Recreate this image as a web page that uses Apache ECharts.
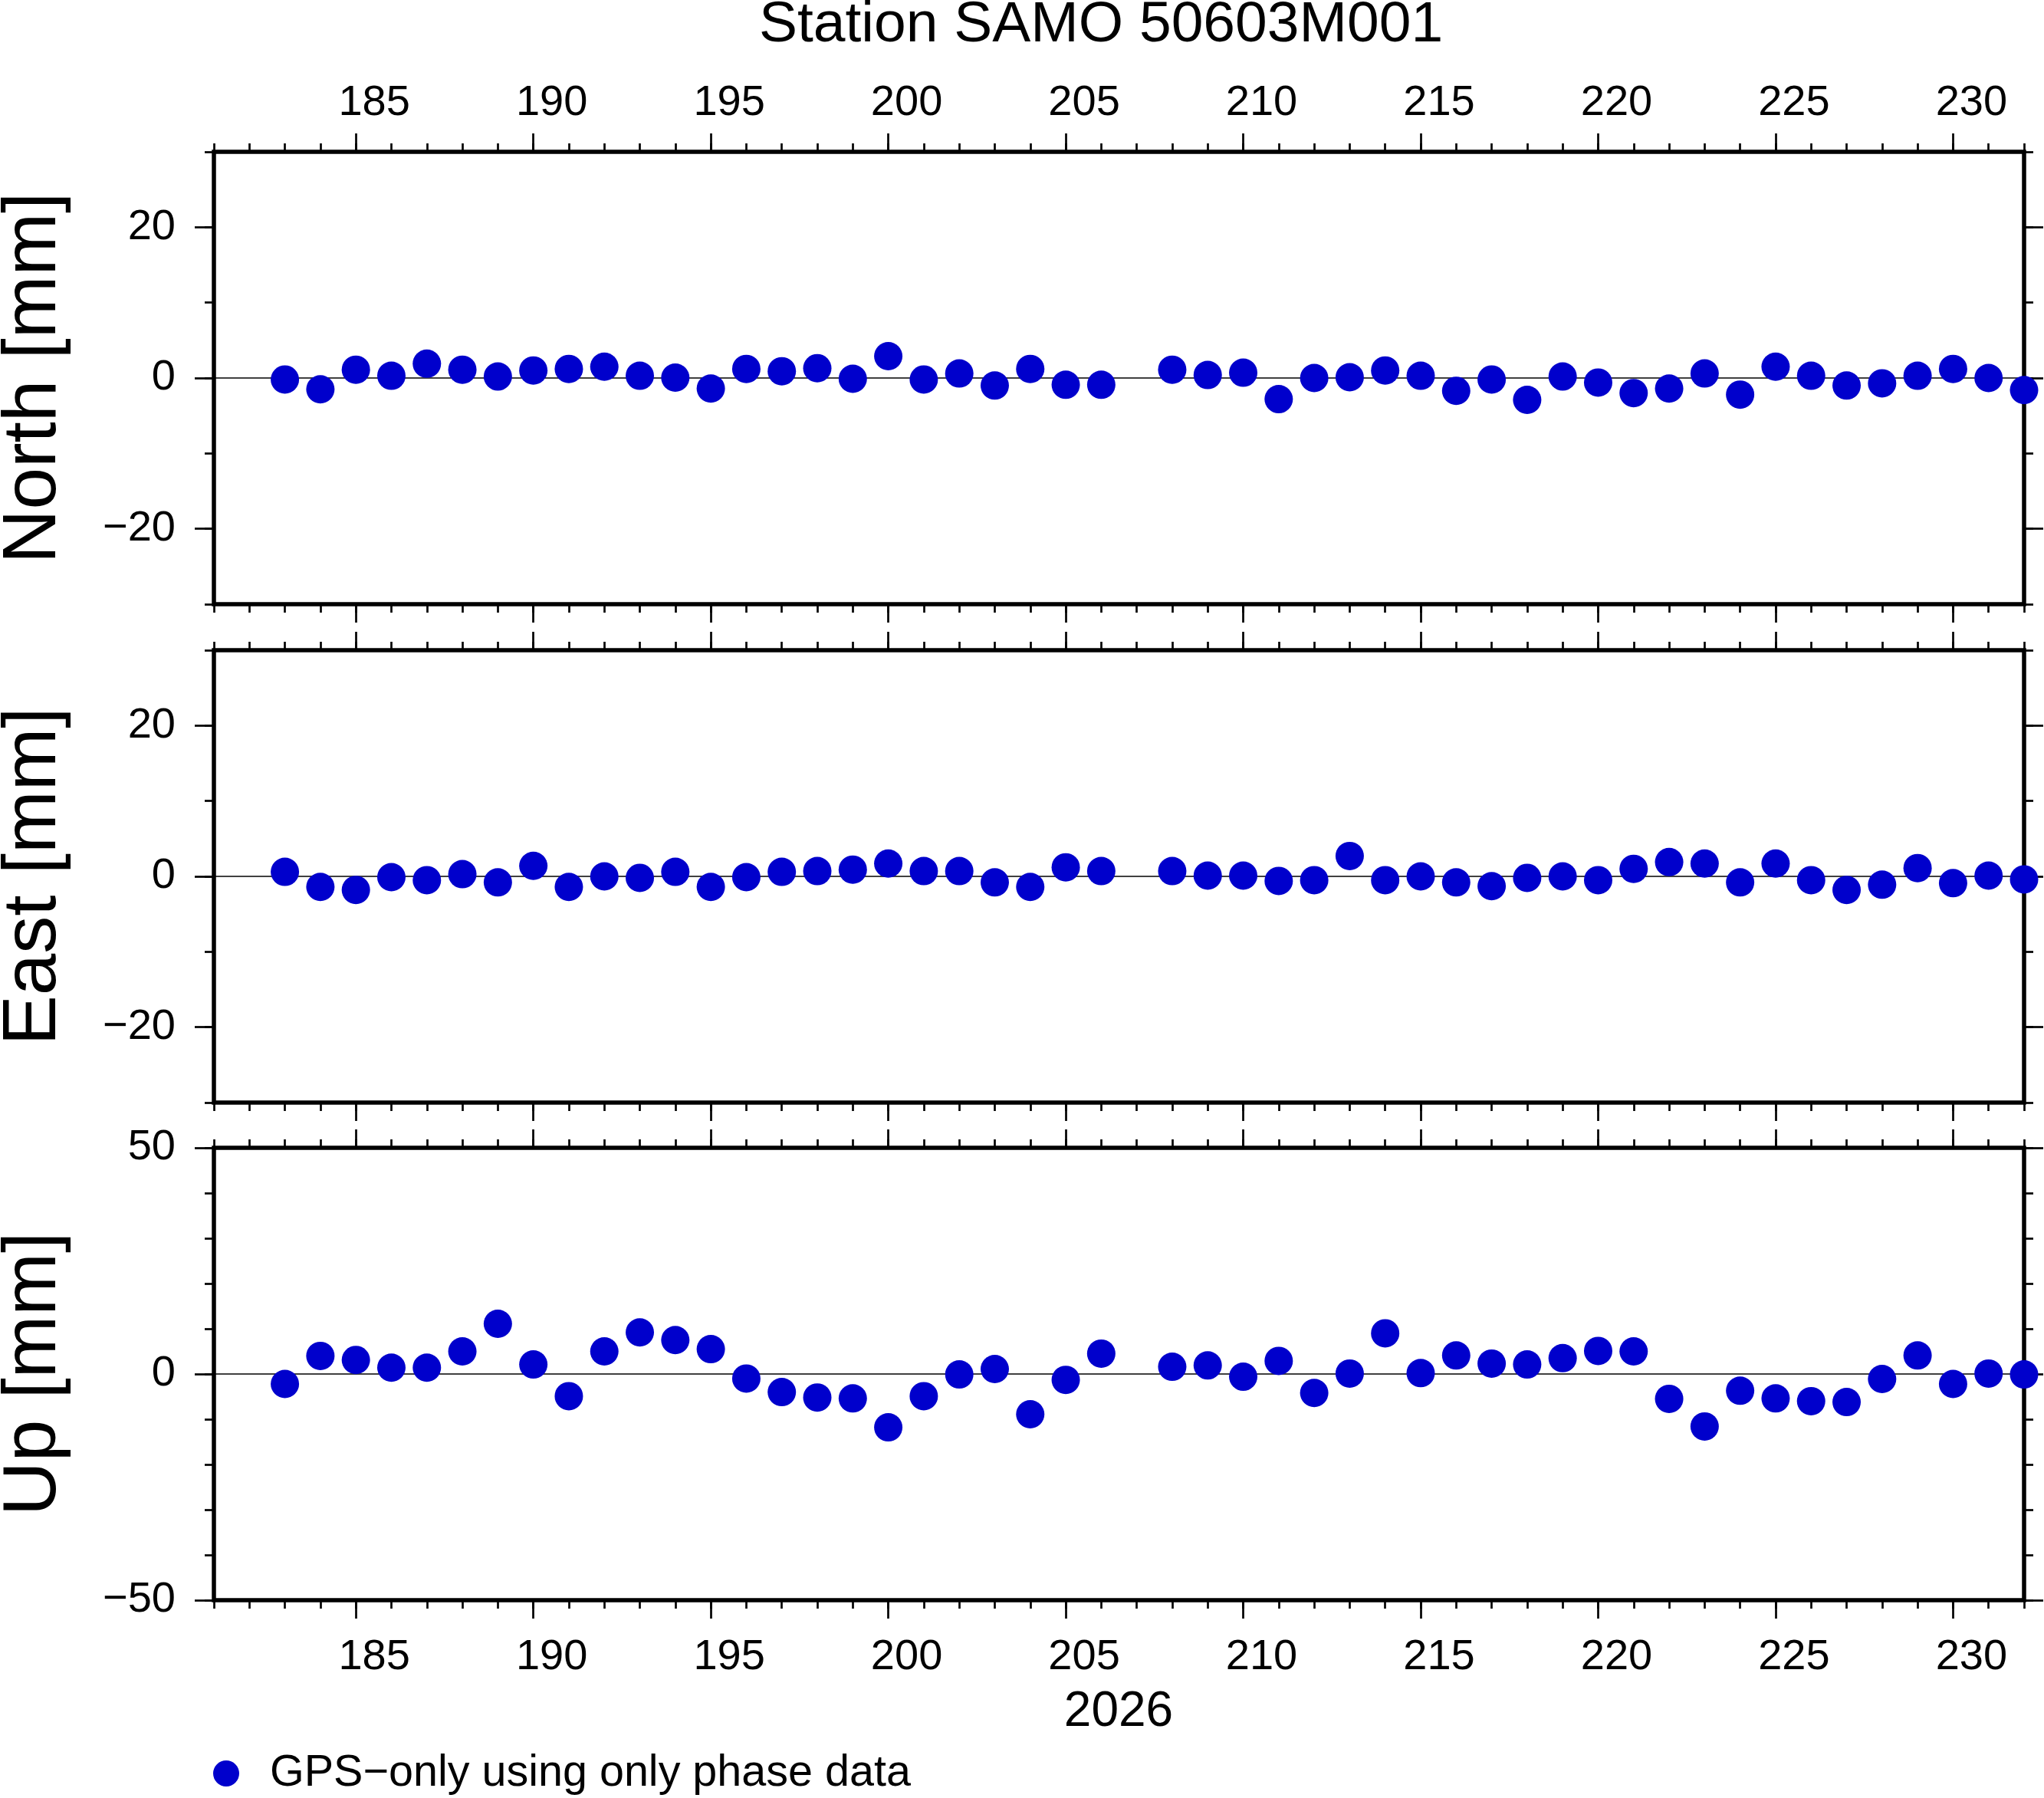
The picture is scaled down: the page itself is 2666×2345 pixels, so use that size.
<!DOCTYPE html>
<html>
<head>
<meta charset="utf-8">
<script src="https://cdn.jsdelivr.net/npm/echarts@6/dist/echarts.min.js"></script>
<style>
html,body{margin:0;padding:0;background:#fff;}
#chart{width:2666px;height:2345px;}
</style>
</head>
<body>
<div id="chart"></div>
<script>
// ---- data ----
const days = [183,184,185,186,187,188,189,190,191,192,193,194,195,196,197,198,199,200,201,202,203,204,205,206,
              208,209,210,211,212,213,214,215,216,217,218,219,220,221,222,223,224,225,226,227,228,229,230,231,232];
const north = [-0.2,-1.5,1.1,0.3,1.9,1.1,0.2,1.0,1.2,1.5,0.3,0.05,-1.4,1.2,0.9,1.3,-0.1,2.9,-0.2,0.6,-1.0,1.2,-0.9,-0.9,
               1.1,0.4,0.7,-2.8,0,0.1,1.0,0.3,-1.7,-0.2,-2.9,0.2,-0.6,-2.0,-1.4,0.6,-2.2,1.5,0.3,-1.0,-0.7,0.3,1.2,0,-1.6];
const east = [0.6,-1.4,-1.8,-0.1,-0.5,0.3,-0.8,1.4,-1.4,0,-0.2,0.6,-1.4,-0.1,0.6,0.7,0.9,1.7,0.7,0.7,-0.8,-1.4,1.2,0.7,
              0.7,0.1,0.1,-0.6,-0.5,2.7,-0.5,0,-0.8,-1.3,-0.2,0,-0.5,1.0,1.9,1.7,-0.8,1.7,-0.5,-1.8,-1.1,1.1,-0.9,0.1,-0.4];
const up = [-2.2,4.0,3.1,1.4,1.4,5.0,11.1,2.1,-4.9,5.0,9.2,7.5,5.5,-1.0,-4.0,-5.2,-5.4,-11.8,-4.9,-0.1,1.1,-8.9,-1.3,4.5,
            1.6,1.9,-0.6,2.9,-4.2,0.1,9.0,0.2,4.1,2.3,2.1,3.5,5.1,5.0,-5.5,-11.6,-3.7,-5.4,-6.0,-6.2,-1.1,4.1,-2.2,0.1,-0.1];

const xRange = [181, 232];
const xMajor = [185,190,195,200,205,210,215,220,225,230];
const neRange = [-30, 30];
const neMajor = [-20, 0, 20];
const upRange = [-50, 50];
const upMajor = [-50, 0, 50];

const panelNames = ['North [mm]', 'East [mm]', 'Up [mm]'];
const titleText = 'Station SAMO 50603M001';
const yearText = '2026';
const seriesName = 'GPS\u2212only using only phase data';

// ---- layout / style ----
const FONT = 'Liberation Sans, Arial, Helvetica, sans-serif';
const GL = 279, GR = 26, GH = 590;
const gridTops = [198, 848, 1497];
const TICKW = 2.7, MAJ = 24, MIN = 11;
const fmt = v => (v < 0 ? '\u2212' + Math.abs(v) : String(v));

const grids = gridTops.map(t => ({
  left: GL, right: GR, top: t, height: GH, show: true,
  borderColor: '#000', borderWidth: 5.5, backgroundColor: 'transparent'
}));

const xAxis = [], yAxis = [];
const tickStyle = {color: '#000', width: TICKW};
function addX(gi, pos, major, showLabel) {
  const ax = {
    gridIndex: gi, type: 'value', min: xRange[0], max: xRange[1], position: pos,
    axisLine: {show: false, onZero: false}, splitLine: {show: false},
    axisLabel: {show: false}
  };
  if (major) {
    ax.axisTick = {show: true, length: MAJ, customValues: xMajor, lineStyle: tickStyle};
    ax.axisLabel = {show: showLabel, customValues: xMajor, fontSize: 56, fontFamily: FONT, color: '#000',
      margin: pos === 'top' ? 35 : 47, padding: [0, 0, 0, 48], formatter: fmt};
  } else {
    ax.interval = 1;
    ax.axisTick = {show: true, length: MIN, lineStyle: tickStyle};
  }
  xAxis.push(ax);
  return xAxis.length - 1;
}
function addY(gi, pos, major, range, majVals, showLabel) {
  const ay = {
    gridIndex: gi, type: 'value', min: range[0], max: range[1], position: pos,
    axisLine: {show: false, onZero: false}, splitLine: {show: false},
    axisLabel: {show: false}
  };
  if (major) {
    ay.axisTick = {show: true, length: MAJ + 1, customValues: majVals, lineStyle: tickStyle};
    ay.axisLabel = {show: showLabel, customValues: majVals, fontSize: 56, fontFamily: FONT, color: '#000',
      margin: 50, formatter: fmt};
  } else {
    ay.interval = 10;
    ay.axisTick = {show: true, length: MIN + 1, lineStyle: tickStyle};
  }
  yAxis.push(ay);
  return yAxis.length - 1;
}

const comps = [north, east, up];
const series = [];
for (let gi = 0; gi < 3; gi++) {
  const range = gi === 2 ? upRange : neRange;
  const majVals = gi === 2 ? upMajor : neMajor;
  const xb = addX(gi, 'bottom', false, false);
  addX(gi, 'bottom', true, gi === 2);
  addX(gi, 'top', false, false);
  addX(gi, 'top', true, gi === 0);
  const yl = addY(gi, 'left', false, range, majVals, false);
  addY(gi, 'left', true, range, majVals, true);
  addY(gi, 'right', false, range, majVals, false);
  addY(gi, 'right', true, range, majVals, false);
  series.push({
    type: 'line', name: 'zero' + gi, xAxisIndex: xb, yAxisIndex: yl,
    data: [[xRange[0], 0], [xRange[1], 0]], symbol: 'none', silent: true, z: 1,
    lineStyle: {color: '#000', width: 1.3}
  });
  series.push({
    type: 'scatter', name: seriesName, xAxisIndex: xb, yAxisIndex: yl, z: 3, clip: false,
    symbol: 'circle', symbolSize: 37, itemStyle: {color: '#0000CC', opacity: 1},
    data: days.map((d, i) => [d, comps[gi][i]])
  });
}

const texts = [];
texts.push({type: 'text', x: 1436, y: 33, style: {text: titleText, fontSize: 75, fontFamily: FONT, fill: '#000', align: 'center', verticalAlign: 'middle'}});
texts.push({type: 'text', x: 1459, y: 2233, style: {text: yearText, fontSize: 64, fontFamily: FONT, fill: '#000', align: 'center', verticalAlign: 'middle'}});
panelNames.forEach((n, i) => {
  texts.push({type: 'text', x: 45, y: gridTops[i] + GH / 2, rotation: Math.PI / 2,
    style: {text: n, fontSize: 98, fontFamily: FONT, fill: '#000', align: 'center', verticalAlign: 'middle'}});
});

const chart = echarts.init(document.getElementById('chart'), null, {renderer: 'canvas'});
chart.setOption({
  animation: false,
  backgroundColor: '#fff',
  grid: grids,
  xAxis: xAxis,
  yAxis: yAxis,
  legend: {
    data: [{name: seriesName, icon: 'circle'}],
    left: 278, top: 2283, padding: 0, itemWidth: 34, itemHeight: 34,
    textStyle: {fontSize: 57.5, fontFamily: FONT, color: '#000', lineHeight: 60, padding: [0, 0, 0, 35]},
    selectedMode: false
  },
  graphic: texts,
  series: series
});
</script>
</body>
</html>
